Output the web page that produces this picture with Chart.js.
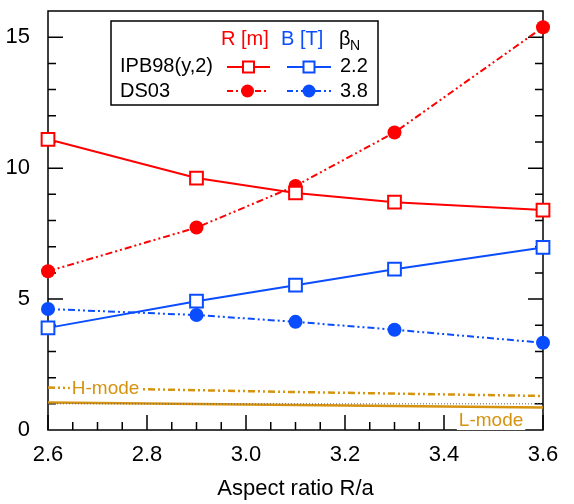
<!DOCTYPE html>
<html>
<head>
<meta charset="utf-8">
<script src="https://cdn.jsdelivr.net/npm/chart.js@4"></script>
<style>
  body { margin: 0; background: #fff; }
  canvas { display: block; }
</style>
</head>
<body>
<canvas id="myChart" width="574" height="504"></canvas>
<script>
// values
const aspect = [2.6, 2.9, 3.1, 3.3, 3.6];
const ipbR = [11.1, 9.62, 9.05, 8.7, 8.4];
const ipbB = [3.9, 4.92, 5.53, 6.14, 6.97];
const ds03R = [6.06, 7.73, 9.32, 11.36, 15.38];
const ds03B = [4.62, 4.39, 4.13, 3.83, 3.33];
const hMode = [1.62, 1.52, 1.45, 1.39, 1.3];
const lMode = [1.05, 0.99, 0.95, 0.92, 0.86];
const refLine = [1, 1, 1, 1, 1];

const RED = '#ff0000';
const BLUE = '#0a4dff';
const ORANGE = '#d6930f';
const FONT = '"Liberation Sans", Arial, sans-serif';
const dashDotDot = [7, 3, 2, 3, 2, 3];

const pts = (ys) => aspect.map((x, i) => ({ x: x, y: ys[i] }));

// frame + inward ticks, drawn under the data
const frameTicks = {
  id: 'frameTicks',
  beforeDatasetsDraw(chart) {
    const { ctx, chartArea: a, scales } = chart;
    ctx.save();
    ctx.strokeStyle = '#000';
    ctx.lineWidth = 1.5;
    ctx.strokeRect(a.left, a.top, a.right - a.left, a.bottom - a.top);
    ctx.beginPath();
    scales.y.ticks.forEach(t => {
      const y = scales.y.getPixelForValue(t.value);
      const len = t.value % 5 === 0 ? 15 : 8;
      if (t.value === 0 || t.value === 16) return;
      ctx.moveTo(a.left, y); ctx.lineTo(a.left + len, y);
      ctx.moveTo(a.right, y); ctx.lineTo(a.right - len, y);
    });
    scales.x.ticks.forEach(t => {
      const x = scales.x.getPixelForValue(t.value);
      const major = Math.abs(t.value * 5 - Math.round(t.value * 5)) < 1e-6;
      ctx.moveTo(x, a.bottom); ctx.lineTo(x, a.bottom - (major ? 15 : 8));
    });
    ctx.stroke();
    ctx.restore();
  },
  afterDatasetsDraw(chart) {
    const { ctx, scales } = chart;
    ctx.save();

    // H-mode / L-mode labels
    ctx.font = '19px ' + FONT;
    ctx.textBaseline = 'middle';
    ctx.textAlign = 'left';
    [['H-mode', 2.648, 1.62], ['L-mode', 3.43, 0.38]].forEach(([txt, xv, yv]) => {
      const x = scales.x.getPixelForValue(xv);
      const y = scales.y.getPixelForValue(yv);
      const w = ctx.measureText(txt).width;
      ctx.fillStyle = '#fff';
      ctx.fillRect(x - 2, y - 10, w + 4, 20);
      ctx.fillStyle = ORANGE;
      ctx.fillText(txt, x, y + 1);
    });

    // legend table
    ctx.fillStyle = '#fff';
    ctx.fillRect(111, 21, 267, 84);
    ctx.strokeStyle = '#000';
    ctx.lineWidth = 1.5;
    ctx.strokeRect(111, 21, 267, 84);

    ctx.font = '20px ' + FONT;
    ctx.fillStyle = RED; ctx.fillText('R [m]', 221, 39);
    ctx.fillStyle = BLUE; ctx.fillText('B [T]', 281, 39);
    ctx.fillStyle = '#000'; ctx.fillText('\u03B2', 339, 39);
    ctx.font = '14px ' + FONT; ctx.fillText('N', 350, 46);
    ctx.font = '20px ' + FONT;
    ctx.fillText('IPB98(y,2)', 120, 66);
    ctx.fillText('DS03', 120, 91);
    ctx.fillText('2.2', 340, 66);
    ctx.fillText('3.8', 340, 91);

    const sample = (x0, x1, y, color, dash, marker) => {
      ctx.strokeStyle = color;
      ctx.lineWidth = 2;
      ctx.setLineDash(dash);
      ctx.beginPath(); ctx.moveTo(x0, y); ctx.lineTo(x1, y); ctx.stroke();
      ctx.setLineDash([]);
      const cx = (x0 + x1) / 2;
      if (marker === 'rect') {
        ctx.fillStyle = '#fff';
        ctx.fillRect(cx - 5.5, y - 5.5, 11, 11);
        ctx.strokeRect(cx - 5.5, y - 5.5, 11, 11);
      } else {
        ctx.fillStyle = color;
        ctx.beginPath(); ctx.arc(cx, y, 6.5, 0, Math.PI * 2); ctx.fill();
      }
    };
    sample(227, 270, 67, RED, [], 'rect');
    sample(287, 331, 67, BLUE, [], 'rect');
    sample(227, 268, 91, RED, [6, 3, 2, 3], 'circle');
    sample(287, 331, 91, BLUE, [6, 3, 2, 3], 'circle');
    ctx.restore();
  }
};

const ctx = document.getElementById('myChart');

new Chart(ctx, {
  type: 'line',
  data: {
    datasets: [
      {
        data: pts(refLine), borderColor: '#666', borderWidth: 1,
        borderDash: [1, 2], pointRadius: 0
      },
      {
        data: pts(lMode), borderColor: ORANGE, borderWidth: 2.5, pointRadius: 0
      },
      {
        data: pts(hMode), borderColor: ORANGE, borderWidth: 2.5,
        borderDash: dashDotDot, pointRadius: 0
      },
      {
        data: pts(ipbR), borderColor: RED, borderWidth: 2,
        pointStyle: 'rect', pointRadius: 9, pointBorderWidth: 2,
        pointBackgroundColor: '#fff', pointBorderColor: RED
      },
      {
        data: pts(ipbB), borderColor: BLUE, borderWidth: 2,
        pointStyle: 'rect', pointRadius: 9, pointBorderWidth: 2,
        pointBackgroundColor: '#fff', pointBorderColor: BLUE
      },
      {
        data: pts(ds03R), borderColor: RED, borderWidth: 2, borderDash: dashDotDot,
        pointStyle: 'circle', pointRadius: 7, pointBorderWidth: 0,
        pointBackgroundColor: RED
      },
      {
        data: pts(ds03B), borderColor: BLUE, borderWidth: 2, borderDash: dashDotDot,
        pointStyle: 'circle', pointRadius: 7, pointBorderWidth: 0,
        pointBackgroundColor: BLUE
      }
    ]
  },
  options: {
    responsive: false,
    animation: false,
    clip: false,
    layout: { padding: { left: 0, right: 31, top: 7, bottom: 0 } },
    plugins: { legend: { display: false }, tooltip: { enabled: false } },
    elements: { line: { tension: 0 } },
    scales: {
      x: {
        type: 'linear', min: 2.6, max: 3.6,
        grid: { display: false }, border: { display: false },
        afterFit: (s) => { s.height = 74; s.paddingLeft = 0; s.paddingRight = 0; },
        ticks: {
          stepSize: 0.05, autoSkip: false, maxRotation: 0, padding: 4,
          color: '#000', font: { family: FONT, size: 22 },
          callback: (v) => Math.abs(v * 5 - Math.round(v * 5)) < 1e-6 ? v.toFixed(1) : ''
        },
        title: {
          display: true, text: 'Aspect ratio R/a', color: '#000',
          font: { family: FONT, size: 22 }, padding: { top: 0, bottom: 2 }
        }
      },
      y: {
        min: 0, max: 16,
        grid: { display: false }, border: { display: false },
        afterFit: (s) => { s.width = 48; s.paddingTop = 0; s.paddingBottom = 0; },
        ticks: {
          stepSize: 1, autoSkip: false, padding: 10,
          color: '#000', font: { family: FONT, size: 22 },
          callback: (v) => v % 5 === 0 ? String(v) : ''
        }
      }
    }
  },
  plugins: [frameTicks]
});
</script>
</body>
</html>
